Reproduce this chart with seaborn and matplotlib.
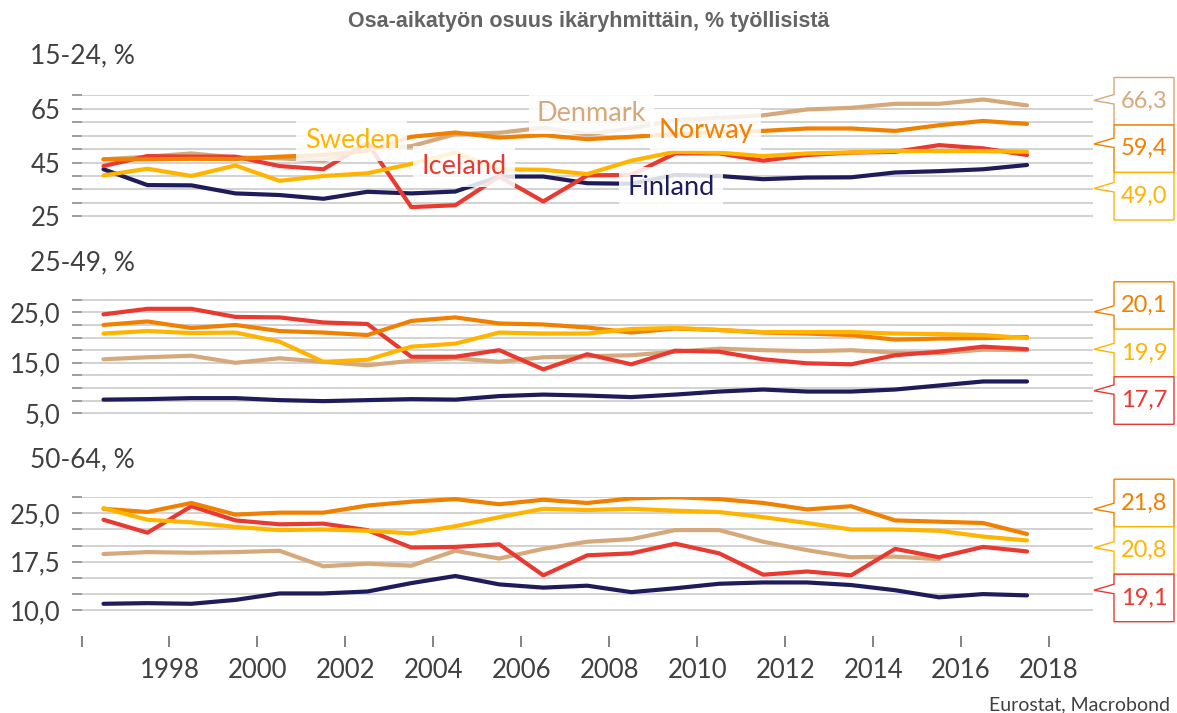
import numpy as np
import pandas as pd
import matplotlib
matplotlib.use('Agg')
import matplotlib.pyplot as plt
import seaborn as sns
from matplotlib.patches import Polygon

# --- data (share of part-time work, % of employed) ---
years = list(range(1996, 2018))
countries = ['Denmark', 'Finland', 'Iceland', 'Norway', 'Sweden']

age_15_24 = {
    'Denmark': [46.2, 47.2, 48.4, 46.9, 46.6, 45.7, 50.3, 51.1, 55.6, 56.1, 58.0,
                55.5, 57.7, 60.8, 61.7, 62.6, 64.8, 65.4, 66.9, 66.9, 68.5, 66.3],
    'Finland': [42.5, 36.6, 36.5, 33.5, 32.9, 31.5, 34.1, 33.5, 34.2, 39.8, 39.8,
                37.3, 37.1, 40.4, 40.0, 38.8, 39.4, 39.5, 41.3, 41.8, 42.5, 44.1],
    'Iceland': [43.7, 47.4, 47.2, 47.2, 43.7, 42.5, 52.3, 28.4, 29.1, 39.8, 30.5,
                40.2, 40.4, 48.4, 48.4, 45.7, 47.8, 48.7, 49.0, 51.5, 50.3, 47.8],
    'Norway':  [46.2, 46.2, 46.4, 46.3, 47.2, 47.8, 49.4, 54.6, 56.2, 54.3, 55.2,
                53.7, 54.6, 55.6, 56.4, 56.8, 57.7, 57.7, 56.8, 58.9, 60.5, 59.4],
    'Sweden':  [40.2, 42.7, 40.0, 43.9, 38.2, 40.0, 41.0, 44.5, 48.7, 42.5, 42.3,
                40.7, 45.7, 49.0, 48.7, 47.4, 48.4, 48.8, 49.3, 49.3, 49.3, 49.0],
}
age_25_49 = {
    'Denmark': [15.7, 16.1, 16.4, 15.0, 15.9, 15.2, 14.5, 15.4, 15.9, 15.2, 16.1,
                16.3, 16.5, 17.2, 17.8, 17.5, 17.3, 17.5, 17.0, 16.9, 17.6, 17.5],
    'Finland': [7.7, 7.8, 8.0, 8.0, 7.6, 7.4, 7.6, 7.8, 7.7, 8.4, 8.7,
                8.5, 8.2, 8.7, 9.3, 9.7, 9.3, 9.3, 9.7, 10.5, 11.3, 11.3],
    'Iceland': [24.6, 25.7, 25.7, 24.1, 24.0, 23.0, 22.7, 16.2, 16.2, 17.5, 13.7,
                16.7, 14.7, 17.4, 17.2, 15.7, 14.9, 14.7, 16.5, 17.2, 18.2, 17.7],
    'Norway':  [22.5, 23.2, 21.9, 22.5, 21.3, 21.0, 20.5, 23.3, 24.0, 22.8, 22.6,
                22.0, 21.0, 21.8, 21.5, 21.0, 20.8, 20.5, 19.6, 19.8, 19.9, 20.1],
    'Sweden':  [20.8, 21.3, 20.9, 21.0, 19.2, 15.2, 15.6, 18.2, 18.8, 21.0, 20.8,
                20.8, 21.7, 21.9, 21.5, 21.1, 21.1, 21.1, 20.8, 20.7, 20.5, 19.9],
}
age_50_64 = {
    'Denmark': [18.7, 19.0, 18.9, 19.0, 19.2, 16.8, 17.2, 16.9, 19.2, 18.0, 19.5,
                20.6, 21.0, 22.4, 22.4, 20.6, 19.3, 18.2, 18.3, 17.9, np.nan, np.nan],
    'Finland': [11.0, 11.1, 11.0, 11.6, 12.6, 12.6, 12.9, 14.2, 15.3, 14.0, 13.5,
                13.8, 12.8, 13.4, 14.1, 14.3, 14.3, 13.9, 13.1, 12.0, 12.5, 12.3],
    'Iceland': [24.0, 22.0, 26.1, 23.9, 23.3, 23.4, 22.4, 19.7, 19.8, 20.2, 15.4,
                18.5, 18.8, 20.3, 18.8, 15.5, 16.0, 15.4, 19.5, 18.2, 19.8, 19.1],
    'Norway':  [25.7, 25.2, 26.6, 24.8, 25.1, 25.1, 26.2, 26.8, 27.2, 26.4, 27.1,
                26.6, 27.3, 27.5, 27.2, 26.6, 25.6, 26.1, 23.9, 23.7, 23.5, 21.8],
    'Sweden':  [25.8, 24.0, 23.6, 22.9, 22.4, 22.5, 22.3, 21.9, 23.0, 24.4, 25.7,
                25.5, 25.7, 25.4, 25.2, 24.4, 23.5, 22.5, 22.5, 22.3, 21.4, 20.8],
}

colors = {'Denmark': '#d5a97b', 'Finland': '#1f1c5c', 'Iceland': '#e83a30',
          'Norway': '#f08000', 'Sweden': '#ffb400'}

# --- styling ---
sns.set_style('white')
plt.rcParams['font.family'] = ['Lato', 'DejaVu Sans']
TXT = '#404040'

W, H = 1177, 713
fig = plt.figure(figsize=(W / 100, H / 100), dpi=100)


def fx(x):
    return x / W


def fy(y):
    return 1 - y / H


def fmt(v, dec):
    return f'{v:.{dec}f}'.replace('.', ',')


# panel: title, data, ylim, major ticks, minor step, decimals, top px, bottom px, title y px, callout tips
panels = [
    ('15-24, %', age_15_24, (25, 70), [25, 45, 65], 5, 0, 95, 216.7, 56, [23, 19, 16]),
    ('25-49, %', age_25_49, (5, 27.5), [5, 15, 25], 2.5, 1, 299.3, 413.7, 263, [30, 20, 14]),
    ('50-64, %', age_50_64, (10, 27.5), [10, 17.5, 25], 2.5, 1, 496.7, 610.7, 460, [30, 21, 16]),
]

left_px, right_px = 81.5, 1093

for i, (name, data, ylim, major, step, dec, top, bot, ty, tips) in enumerate(panels):
    ax = fig.add_axes([fx(left_px), fy(bot), fx(right_px) - fx(left_px), (bot - top) / H])
    df = pd.DataFrame([(y + 0.5, c, v) for c in countries for y, v in zip(years, data[c])],
                      columns=['year', 'country', 'value'])
    sns.lineplot(data=df, x='year', y='value', hue='country', hue_order=countries,
                 palette=colors, linewidth=3.0, errorbar=None, legend=False, ax=ax)
    ax.set_xlim(1996, 2019)
    pad = (ylim[1] - ylim[0]) * 0.004
    ax.set_ylim(ylim[0] - pad, ylim[1] + pad)
    ax.set_yticks(major)
    ax.set_yticklabels([fmt(v, dec) for v in major])
    ax.set_yticks(np.arange(ylim[0], ylim[1] + 0.01, step), minor=True)
    ax.tick_params(axis='y', which='both', left=True, length=7, width=1.2,
                   color='#8c8c8c', direction='out', pad=8, labelsize=18.5, labelcolor=TXT)
    ax.grid(True, axis='y', which='both', color='#cfcfcf', lw=1.3)
    ax.grid(False, axis='x')
    ax.set_axisbelow(True)
    ax.set_xlabel('')
    ax.set_ylabel('')
    for s in ax.spines.values():
        s.set_visible(False)
    if i == 2:
        ax.spines['bottom'].set_position(('outward', 18))
        xt = list(range(1996, 2019, 2))
        ax.set_xticks(xt)
        ax.set_xticklabels(['' if t == 1996 else str(t) for t in xt])
        ax.tick_params(axis='x', bottom=True, length=8, width=1.1, color='#606060',
                       direction='out', pad=8, labelsize=18.5, labelcolor=TXT)
    else:
        ax.set_xticks([])

    fig.text(fx(30), fy(ty), name, ha='left', va='center', fontsize=19, color=TXT)

    if i == 0:
        for lab, lx, ly in [('Sweden', 2002.15, 53.4), ('Denmark', 2007.6, 63.2),
                            ('Norway', 2010.2, 57.1), ('Iceland', 2004.7, 43.4),
                            ('Finland', 2009.4, 35.6)]:
            ax.text(lx, ly, lab, color=colors[lab], fontsize=19.5, ha='center', va='center',
                    zorder=6, bbox=dict(boxstyle='square,pad=0.3', fc='white', ec='none', alpha=0.85))

    # value callouts on the right: three highest latest values
    last = sorted([(data[c][-1], c) for c in countries if not np.isnan(data[c][-1])], reverse=True)[:3]
    bh = 47.5
    for k, (v, c) in enumerate(last):
        bt = top - 17.5 + k * bh
        bb = bt + bh
        tip = bt + tips[k]
        bl, br, tx = 1114, 1174, 1094
        pts = [(bl, bt), (br, bt), (br, bb), (bl, bb), (bl, tip + 3.5), (tx, tip), (bl, tip - 6)]
        poly = Polygon([(fx(a), fy(b)) for a, b in pts], closed=True, transform=fig.transFigure,
                       fc='white', ec=colors[c], lw=1.0, zorder=3 + k)
        fig.add_artist(poly)
        fig.text(fx((bl + br) / 2), fy((bt + bb) / 2), fmt(v, 1), ha='center', va='center',
                 fontsize=17, color=colors[c], zorder=10)

fig.text(0.5, fy(22), 'Osa-aikatyön osuus ikäryhmittäin, % työllisistä', ha='center', va='center',
         fontsize=15.5, fontweight='bold', color='#646464', family=['Liberation Sans', 'DejaVu Sans'])
fig.text(fx(1170), fy(705), 'Eurostat, Macrobond', ha='right', va='center', fontsize=14, color=TXT)

fig.savefig('out.png', dpi=100)
